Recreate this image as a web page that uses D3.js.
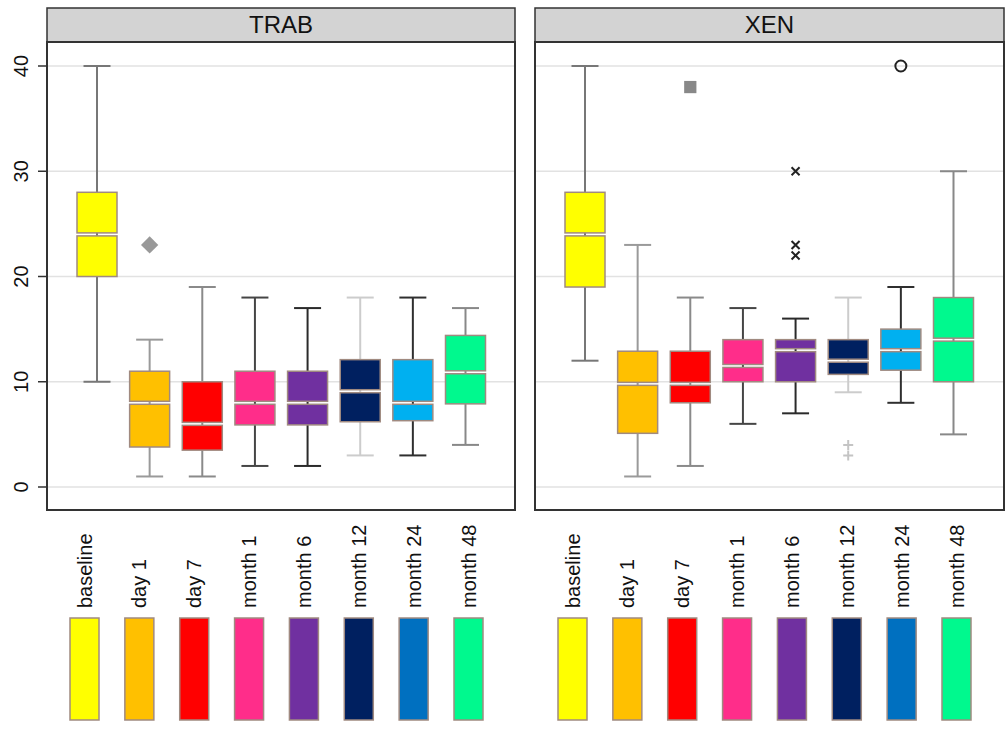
<!DOCTYPE html>
<html>
<head>
<meta charset="utf-8">
<script src="https://cdn.jsdelivr.net/npm/d3@7"></script>
<style>
  body { margin: 0; background: #fff; }
  text { font-family: "Liberation Sans", Arial, Helvetica, sans-serif; fill: #111; }
</style>
</head>
<body>
<svg id="chart" width="1006" height="731"></svg>
<script>
// Données
const categories = ['baseline', 'day 1', 'day 7', 'month 1', 'month 6', 'month 12', 'month 24', 'month 48'];
const panels = ['TRAB', 'XEN'];

const boxColors = ['#ffff00', '#ffc000', '#ff0000', '#ff2d8a', '#7030a0', '#002060', '#00b0f0', '#00f98e'];
const legendColors = ['#ffff00', '#ffc000', '#ff0000', '#ff2d8a', '#7030a0', '#002060', '#0070c0', '#00f98e'];
const whiskerColors = ['#777777', '#9a9a9a', '#8a8a8a', '#454545', '#2a2a2a', '#cccccc', '#2f2f2f', '#888888'];

// [min, q1, median, q3, max] par catégorie
const trabStats = [
    [10, 20, 24, 28, 40],
    [1, 3.8, 8, 11, 14],
    [1, 3.5, 6, 10, 19],
    [2, 5.9, 8, 11, 18],
    [2, 5.9, 8, 11, 17],
    [3, 6.2, 9.1, 12.1, 18],
    [3, 6.3, 8, 12.1, 18],
    [4, 7.9, 10.9, 14.4, 17]
];
const xenStats = [
    [12, 19, 24, 28, 40],
    [1, 5.1, 9.8, 12.9, 23],
    [2, 8, 9.8, 12.9, 18],
    [6, 10, 11.5, 14, 17],
    [7, 10, 13, 14, 16],
    [9, 10.7, 12, 14, 18],
    [8, 11.1, 13, 15, 19],
    [5, 10, 14, 18, 30]
];

// valeurs aberrantes : [catégorie, valeur, forme]
const trabOutliers = [
    ['day 1', 23, 'diamond']
];
const xenOutliers = [
    ['day 7', 38, 'square'],
    ['month 6', 30, 'times'],
    ['month 6', 23, 'times'],
    ['month 6', 22, 'times'],
    ['month 12', 4, 'plus'],
    ['month 12', 3, 'plus'],
    ['month 24', 40, 'circle']
];

const yTicks = [0, 10, 20, 30, 40];

const statsByPanel = { TRAB: trabStats, XEN: xenStats };
const outliersByPanel = { TRAB: trabOutliers, XEN: xenOutliers };

// Configuration
const panelX = { TRAB: [47, 515], XEN: [535, 1004] };
const stripTop = 8, stripBottom = 42, plotBottom = 510;
const boxWidth = 40, capWidth = 27;

const svg = d3.select('#chart');

const y = d3.scaleLinear().domain([0, 40]).range([487, 66]);

// Axe Y (panneau de gauche seulement)
const yAxis = svg.append('g');
yAxis.selectAll('line')
    .data(yTicks)
    .join('line')
    .attr('x1', 38).attr('x2', 47)
    .attr('y1', d => y(d)).attr('y2', d => y(d))
    .attr('stroke', '#333').attr('stroke-width', 1.5);
yAxis.selectAll('text')
    .data(yTicks)
    .join('text')
    .attr('transform', d => `translate(28,${y(d)}) rotate(-90)`)
    .attr('text-anchor', 'middle')
    .style('font-size', '20px')
    .text(d => d);

panels.forEach(name => {
    const [x0, x1] = panelX[name];
    const stats = statsByPanel[name];

    const x = d3.scalePoint().domain(categories).range([x0 + 50, x0 + 418.5]);
    const xLegend = d3.scalePoint().domain(categories).range([x0 + 37.5, x0 + 421.5]);

    const g = svg.append('g');

    // Bandeau du titre
    g.append('rect')
        .attr('x', x0).attr('y', stripTop)
        .attr('width', x1 - x0).attr('height', stripBottom - stripTop)
        .attr('fill', '#d3d3d3')
        .attr('stroke', '#333').attr('stroke-width', 1.5);
    g.append('text')
        .attr('x', (x0 + x1) / 2).attr('y', 33)
        .attr('text-anchor', 'middle')
        .style('font-size', '24px')
        .text(name);

    // Grille
    g.selectAll('.grid')
        .data(yTicks)
        .join('line')
        .attr('class', 'grid')
        .attr('x1', x0).attr('x2', x1)
        .attr('y1', d => y(d)).attr('y2', d => y(d))
        .attr('stroke', '#e2e2e2').attr('stroke-width', 1.5);

    // Boîtes
    const boxes = g.selectAll('.box')
        .data(stats)
        .join('g')
        .attr('class', 'box')
        .attr('transform', (d, i) => `translate(${x(categories[i])},0)`);

    // moustaches
    boxes.append('line')
        .attr('x1', 0).attr('x2', 0)
        .attr('y1', d => y(d[0])).attr('y2', d => y(d[4]))
        .attr('stroke', (d, i) => whiskerColors[i]).attr('stroke-width', 2);
    boxes.selectAll('.cap')
        .data((d, i) => [[d[0], i], [d[4], i]])
        .join('line')
        .attr('class', 'cap')
        .attr('x1', -capWidth / 2).attr('x2', capWidth / 2)
        .attr('y1', d => y(d[0])).attr('y2', d => y(d[0]))
        .attr('stroke', d => whiskerColors[d[1]]).attr('stroke-width', 2);

    // deux moitiés séparées par un trait blanc à la médiane
    boxes.append('rect')
        .attr('x', -boxWidth / 2).attr('width', boxWidth)
        .attr('y', d => y(d[3]))
        .attr('height', d => Math.max(1, y(d[2]) - y(d[3]) - 1.5))
        .attr('fill', (d, i) => boxColors[i])
        .attr('stroke', '#a08a80').attr('stroke-width', 1.5);
    boxes.append('rect')
        .attr('x', -boxWidth / 2).attr('width', boxWidth)
        .attr('y', d => y(d[2]) + 1.5)
        .attr('height', d => Math.max(1, y(d[1]) - y(d[2]) - 1.5))
        .attr('fill', (d, i) => boxColors[i])
        .attr('stroke', '#a08a80').attr('stroke-width', 1.5);

    // Valeurs aberrantes
    const outliers = outliersByPanel[name];
    outliers.forEach(([cat, v, shape]) => {
        const cx = x(cat), cy = y(v);
        if (shape === 'diamond') {
            // carré tourné de 45°
            g.append('path')
                .attr('transform', `translate(${cx},${cy}) rotate(45)`)
                .attr('d', d3.symbol(d3.symbolSquare, 150)())
                .attr('fill', '#999');
        } else if (shape === 'square') {
            g.append('path')
                .attr('transform', `translate(${cx},${cy})`)
                .attr('d', d3.symbol(d3.symbolSquare, 150)())
                .attr('fill', '#888');
        } else if (shape === 'circle') {
            g.append('circle')
                .attr('cx', cx).attr('cy', cy).attr('r', 5.5)
                .attr('fill', 'none').attr('stroke', '#222').attr('stroke-width', 2);
        } else if (shape === 'times') {
            const s = 4;
            g.append('path')
                .attr('d', `M${cx - s},${cy - s}L${cx + s},${cy + s}M${cx - s},${cy + s}L${cx + s},${cy - s}`)
                .attr('stroke', '#222').attr('stroke-width', 2);
        } else if (shape === 'plus') {
            const s = 5;
            g.append('path')
                .attr('d', `M${cx - s},${cy}L${cx + s},${cy}M${cx},${cy - s}L${cx},${cy + s}`)
                .attr('stroke', '#c4c4c4').attr('stroke-width', 2);
        }
    });

    // Cadre du panneau
    g.append('rect')
        .attr('x', x0).attr('y', stripBottom)
        .attr('width', x1 - x0).attr('height', plotBottom - stripBottom)
        .attr('fill', 'none')
        .attr('stroke', '#333').attr('stroke-width', 2);

    // Légende sous le panneau : libellés verticaux et rectangles colorés
    g.selectAll('.lab')
        .data(categories)
        .join('text')
        .attr('class', 'lab')
        .attr('transform', d => `translate(${xLegend(d) + 7},608) rotate(-90)`)
        .attr('text-anchor', 'start')
        .style('font-size', '20px')
        .text(d => d);
    g.selectAll('.key')
        .data(categories)
        .join('rect')
        .attr('class', 'key')
        .attr('x', d => xLegend(d) - 14.5).attr('y', 618)
        .attr('width', 29).attr('height', 102)
        .attr('fill', (d, i) => legendColors[i])
        .attr('stroke', '#a08a80').attr('stroke-width', 1.5);
});
</script>
</body>
</html>
